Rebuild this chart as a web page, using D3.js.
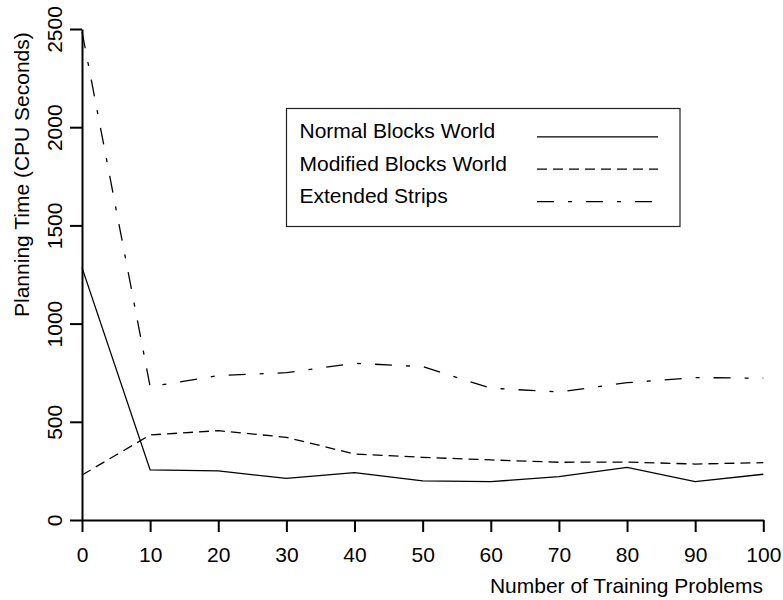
<html>
<script src='https://d3js.org/d3.v7.min.js'></script>
<style>
    body { margin: 0; background: white; }
    text { font-family: 'Liberation Sans', Arial, sans-serif; fill: black; }
    .axis path, .axis line { stroke: black; stroke-width: 2; }
    .series { fill: none; stroke: black; stroke-width: 1.3; }
</style>

<body onload='init()'>
    <svg width=783 height=600></svg>
    <script>
        // data
        const problems = [0, 10, 20, 30, 40, 50, 60, 70, 80, 90, 100];
        const normalBlocks = [1285, 255, 250, 212, 241, 199, 195, 221, 268, 195, 233];
        const modifiedBlocks = [229, 433, 455, 421, 336, 319, 306, 294, 295, 285, 292];
        const extendedStrips = [2487, 679, 735, 750, 798, 781, 671, 652, 699, 725, 722];
        const seriesNames = ['Normal Blocks World', 'Modified Blocks World', 'Extended Strips'];
        const yTicks = [0, 500, 1000, 1500, 2000, 2500];
        const xTicks = [0, 10, 20, 30, 40, 50, 60, 70, 80, 90, 100];

        function init() {
            const svg = d3.select('svg');
            const fontSize = 21;

            const x = d3.scaleLinear().domain([0, 100]).range([82, 763.3]);
            const y = d3.scaleLinear().domain([0, 2500]).range([520, 29]);

            const dashes = ['none', '10,6', '17,14,4,14'];
            const allSeries = [normalBlocks, modifiedBlocks, extendedStrips];

            const line = d3.line()
                .x((d, i) => x(problems[i]))
                .y(d => y(d));

            svg.selectAll('path.series')
                .data(allSeries)
                .enter()
                .append('path')
                .attr('class', 'series')
                .attr('d', d => line(d))
                .attr('stroke-dasharray', (d, i) => dashes[i]);

            // y axis, labels rotated
            const yAxis = svg.append('g')
                .attr('class', 'axis')
                .attr('transform', 'translate(' + x(0) + ',0)')
                .call(d3.axisLeft(y).tickValues(yTicks).tickFormat(d3.format('d'))
                    .tickSize(12).tickSizeOuter(0));
            yAxis.selectAll('text')
                .attr('x', null).attr('dy', null)
                .attr('transform', 'translate(-20.5,0) rotate(-90)')
                .attr('text-anchor', 'middle')
                .style('font-size', fontSize + 'px')
                .style('font-family', "'Liberation Sans', Arial, sans-serif");

            // x axis
            const xAxis = svg.append('g')
                .attr('class', 'axis')
                .attr('transform', 'translate(0,' + y(0) + ')')
                .call(d3.axisBottom(x).tickValues(xTicks).tickFormat(d3.format('d'))
                    .tickSize(12).tickSizeOuter(0));
            xAxis.selectAll('text')
                .attr('y', 41.7).attr('dy', null)
                .style('font-size', fontSize + 'px')
                .style('font-family', "'Liberation Sans', Arial, sans-serif");

            // axis titles
            svg.append('text')
                .attr('transform', 'translate(28.5,317) rotate(-90)')
                .style('font-size', fontSize + 'px')
                .text('Planning Time (CPU Seconds)');
            svg.append('text')
                .attr('x', 763)
                .attr('y', 593)
                .attr('text-anchor', 'end')
                .style('font-size', fontSize + 'px')
                .text('Number of Training Problems');

            // legend
            const legend = svg.append('g');
            legend.append('rect')
                .attr('x', 286.5).attr('y', 108.5)
                .attr('width', 393.5).attr('height', 118)
                .attr('fill', 'white')
                .attr('stroke', '#222')
                .attr('stroke-width', 1.2);
            const rows = legend.selectAll('g.row')
                .data(seriesNames)
                .enter()
                .append('g')
                .attr('class', 'row')
                .attr('transform', (d, i) => 'translate(0,' + (138.3 + i * 32.4) + ')');
            rows.append('text')
                .attr('x', 299.5)
                .style('font-size', fontSize + 'px')
                .text(d => d);
            rows.append('line')
                .attr('x1', 537).attr('x2', 658)
                .attr('y1', -1.5).attr('y2', -1.5)
                .attr('stroke', 'black')
                .attr('stroke-width', 1.3)
                .attr('stroke-dasharray', (d, i) => dashes[i]);
        }
    </script>
</body>

</html>
